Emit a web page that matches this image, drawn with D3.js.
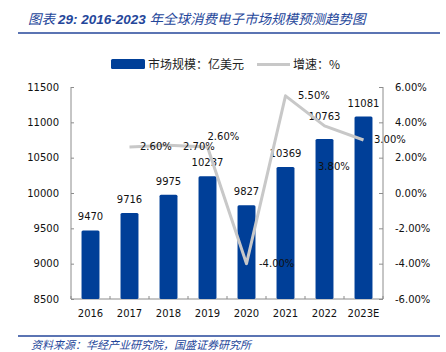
<!DOCTYPE html>
<html><head><meta charset="utf-8">
<script src="https://cdn.jsdelivr.net/npm/d3@7"></script>
<style>body{margin:0;background:#fff}svg{display:block}</style>
</head><body>
<svg id="c" width="446" height="352"></svg>
<script>
const categories = ["2016","2017","2018","2019","2020","2021","2022","2023E"];
const marketSize = [9470, 9716, 9975, 10237, 9827, 10369, 10763, 11081];
const growth = [null, 2.6, 2.7, 2.6, -4.0, 5.5, 3.8, 3.0];
const leftTicks = [8500, 9000, 9500, 10000, 10500, 11000, 11500];
const rightTicks = [-6, -4, -2, 0, 2, 4, 6];

const svg = d3.select("#c");
const font = "'DejaVu Sans', sans-serif";
const cjk = "'Noto Sans CJK SC', sans-serif";
const blue = "#003f98";
const titleBlue = "#24469a";
const gray = "#c8c8c8";
const axisCol = "#8c8c8c";
const pct = v => v.toFixed(2) + "%";

const L = 71, R = 383, T = 87, B = 299;
const x = d3.scaleBand().domain(categories).range([L, R]).paddingInner(0.54).paddingOuter(0.27);
const y = d3.scaleLinear().domain([8500, 11500]).range([B, T]);
const y2 = d3.scaleLinear().domain([-6, 6]).range([B, T]);
const cx = c => x(c) + x.bandwidth() / 2;

// Title
const title = svg.append("text").attr("x", 28).attr("y", 24)
  .attr("font-family", cjk).attr("font-size", 13.5).attr("font-style", "italic")
  .attr("fill", titleBlue);
title.append("tspan").text("图表 ");
title.append("tspan").attr("font-weight", "bold").attr("font-family", "'Liberation Sans', sans-serif").text("29:  2016-2023 ");
title.append("tspan").text("年全球消费电子市场规模预测趋势图");
svg.append("line").attr("x1", 18).attr("x2", 440).attr("y1", 33).attr("y2", 33)
  .attr("stroke", titleBlue).attr("stroke-width", 1.6);

// Legend
svg.append("rect").attr("x", 111).attr("y", 59).attr("width", 34).attr("height", 10).attr("rx", 1.5).attr("fill", blue);
svg.append("text").attr("x", 148).attr("y", 68.5).attr("font-family", cjk).attr("font-size", 12).attr("fill", "#222").text("市场规模：亿美元");
svg.append("line").attr("x1", 257).attr("x2", 290).attr("y1", 64.5).attr("y2", 64.5).attr("stroke", gray).attr("stroke-width", 3);
svg.append("text").attr("x", 293).attr("y", 68.5).attr("font-family", cjk).attr("font-size", 12).attr("fill", "#222").text("增速：%");

// Axes
const leftAxis = d3.axisLeft(y).tickValues(leftTicks).tickSize(-3).tickPadding(12).tickFormat(d3.format("d"));
const gl = svg.append("g").attr("transform", `translate(${L},0)`).call(leftAxis);
const rightAxis = d3.axisRight(y2).tickValues(rightTicks).tickSize(-4).tickPadding(12).tickFormat(pct);
const gr = svg.append("g").attr("transform", `translate(${R},0)`).call(rightAxis);
const bottomAxis = d3.axisBottom(x).tickSize(0).tickPadding(11);
const gb = svg.append("g").attr("transform", `translate(0,${B})`).call(bottomAxis);
[gl, gr, gb].forEach(g => {
  g.select(".domain").attr("stroke", axisCol);
  g.selectAll(".tick line").attr("stroke", axisCol);
  g.selectAll("text").attr("font-family", font).attr("font-size", 10).attr("fill", "#111");
});
gl.select(".domain").attr("d", `M0,${T}V${B}`);
gr.select(".domain").attr("d", `M0,${T}V${B}`);
gb.select(".domain").attr("d", `M${L},0H${R}`);
// category boundary ticks on x axis
const bounds = d3.range(categories.length + 1).map(i => L + i * x.step());
gb.selectAll(".btick").data(bounds).join("line").attr("class", "btick")
  .attr("x1", d => d).attr("x2", d => d).attr("y1", 0).attr("y2", -3).attr("stroke", axisCol);

// Bars
svg.append("g").selectAll("rect").data(marketSize).join("rect")
  .attr("x", (d, i) => x(categories[i])).attr("width", x.bandwidth())
  .attr("y", d => y(d)).attr("height", d => B - y(d)).attr("rx", 1.5).attr("fill", blue);

// Bar labels
const barLabelLift = [10, 10, 10, 10, 10, 10, 19.5, 10];
svg.append("g").selectAll("text").data(marketSize).join("text")
  .attr("x", (d, i) => cx(categories[i])).attr("y", (d, i) => y(d) - barLabelLift[i])
  .attr("text-anchor", "middle").attr("font-family", font).attr("font-size", 10).attr("fill", "#111")
  .text(d => d);

// Growth line
const pts = growth.map((g, i) => ({c: categories[i], g})).filter(d => d.g !== null);
const line = d3.line().x(d => cx(d.c)).y(d => y2(d.g));
svg.append("path").datum(pts).attr("d", line).attr("fill", "none")
  .attr("stroke", gray).attr("stroke-width", 3).attr("stroke-linejoin", "round");

// Growth labels
const gdx = {"2017": 10.5, "2018": 14.5, "2019": 0, "2020": 12.5, "2021": 12.5, "2022": -6.5, "2023E": 10.5};
const gdy = {"2017": -1, "2018": 1, "2019": -11, "2020": 0, "2021": 0, "2022": 41, "2023E": -1};
svg.append("g").selectAll("text").data(pts).join("text")
  .attr("x", d => cx(d.c) + gdx[d.c]).attr("y", d => y2(d.g) + gdy[d.c] + 3.6)
  .attr("font-family", font).attr("font-size", 10).attr("fill", "#111")
  .text(d => pct(d.g));

// Footer
svg.append("line").attr("x1", 18).attr("x2", 440).attr("y1", 336).attr("y2", 336)
  .attr("stroke", titleBlue).attr("stroke-width", 1.6);
svg.append("text").attr("x", 31).attr("y", 349).attr("font-family", cjk).attr("font-size", 11)
  .attr("font-style", "italic").attr("fill", titleBlue).text("资料来源：华经产业研究院，国盛证券研究所");
</script>
</body></html>
